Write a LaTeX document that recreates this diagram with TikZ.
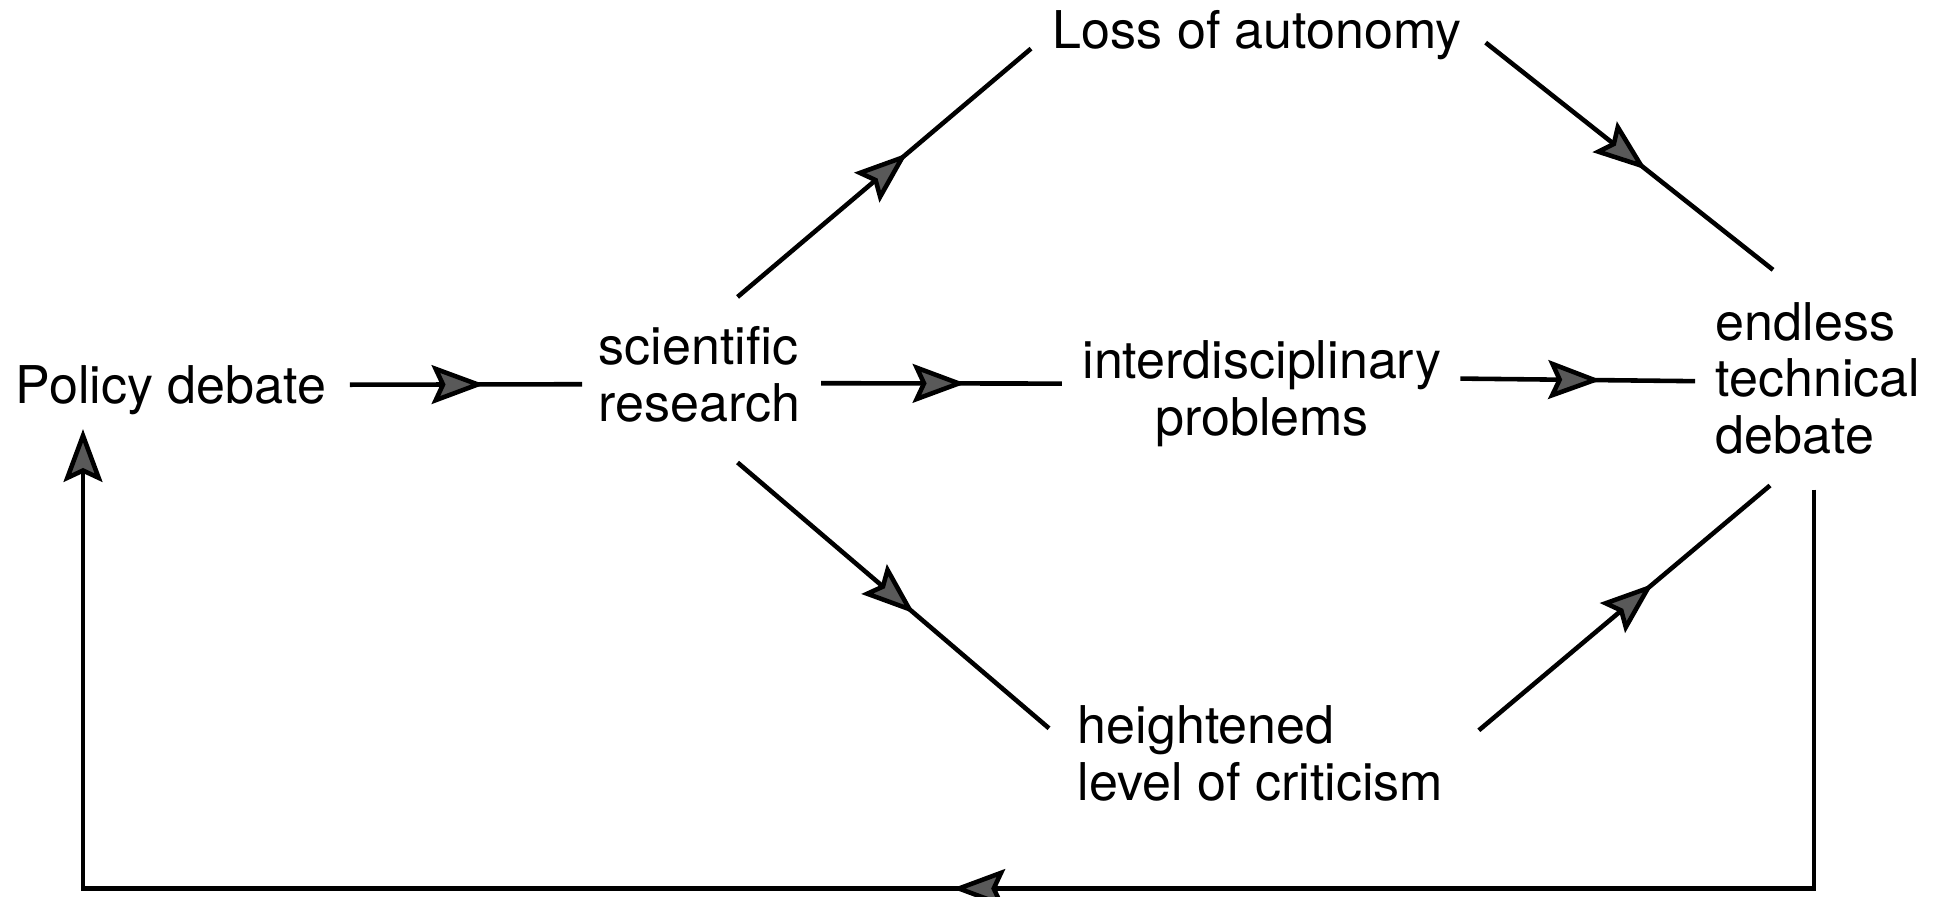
\documentclass[tikz,border=0pt]{standalone}
\usepackage{fontspec}
\setmainfont{TeX Gyre Heros}
\usetikzlibrary{arrows.meta, decorations.markings}

\begin{document}
\begin{tikzpicture}[x=0.01cm, y=-0.01cm,
    every node/.style={inner sep=0pt, font=\fontsize{14.8}{16}\selectfont},
    flowtip/.tip={Stealth[length=15pt, width=11pt, inset=2.5pt, fill=black!65]},
    flow/.style={line width=1.3pt, postaction={decorate},
      decoration={markings, mark=at position #1 with {\arrow{flowtip}}}},
    flow/.default=0.58]
  \useasboundingbox (0,0) rectangle (1940,896);

  % labels (base = last line)
  \node[anchor=base west] (policy) at (15,403) {Policy debate};
  \node[anchor=base west, align=left] (science) at (598,421) {scientific\\research};
  \node[anchor=base, align=center] (inter) at (1262,435) {interdisciplinary\\problems};
  \node[anchor=base west, align=left] (endless) at (1715,453) {endless\\technical\\debate};
  \node[anchor=base west] (loss) at (1052,48) {Loss of autonomy};
  \node[anchor=base west, align=left] (crit) at (1077,800) {heightened\\level of criticism};

  % middle row
  \draw[flow] ([shift={(23,-5)}]policy.east) -- ([shift={(-16,10)}]science.west);
  \draw[flow=0.6] ([shift={(20,9)}]science.east) -- ([shift={(-20,-10)}]inter.west);
  \draw[flow=0.6] ([shift={(18,-15)}]inter.east) -- ([shift={(-20,3)}]endless.west);

  % upper branch
  \draw[flow] ([shift={(38,-29)}]science.north) -- ([shift={(-21,14)}]loss.west);
  \draw[flow=0.56] ([shift={(23,8)}]loss.east) -- ([shift={(-45,-32)}]endless.north);

  % lower branch
  \draw[flow=0.57] ([shift={(38,40)}]science.south) -- ([shift={(-28,-25)}]crit.west);
  \draw[flow=0.6] ([shift={(35,-23)}]crit.east) -- ([shift={(-48,31)}]endless.south);

  % feedback loop
  \draw[flow=12.6cm, -flowtip] ([shift={(-4,35)}]endless.south) -- ++(0,399)
    -| ([shift={(68,14)}]policy.south west);
\end{tikzpicture}
\end{document}
